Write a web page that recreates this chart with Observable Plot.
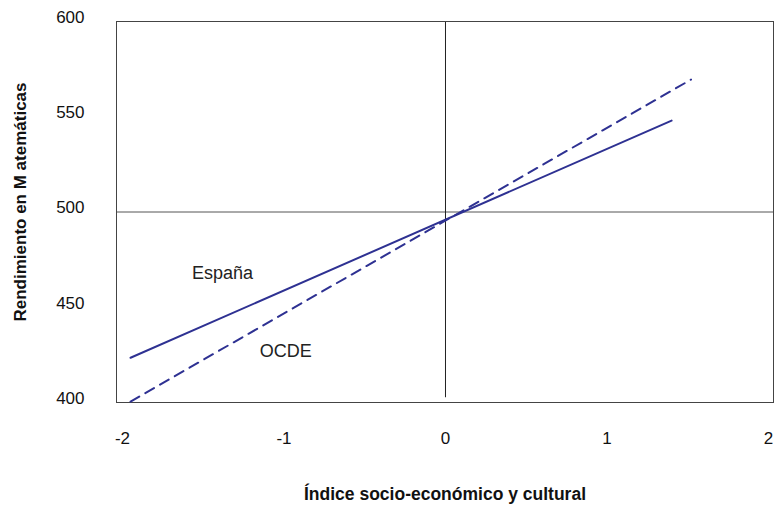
<!DOCTYPE html>
<html>
<head>
<meta charset="utf-8">
<script src="https://cdn.jsdelivr.net/npm/d3@7"></script>
<script src="https://cdn.jsdelivr.net/npm/@observablehq/plot@0.6"></script>
<style>
  html, body { margin: 0; padding: 0; background: #fff; }
  #chart svg { display: block; font-family: "Liberation Sans", Arial, sans-serif; }
</style>
</head>
<body>
<div id="chart"></div>
<script>
// Series (two endpoints of each regression line)
const espanaX = [-1.95, 1.40];
const espanaY = [423.5, 548];
const ocdeX = [-1.95, 1.52];
const ocdeY = [400.5, 569.5];

const xTicks = [-2, -1, 0, 1, 2];
const yTicks = [400, 450, 500, 550, 600];

const seriesLabels = ["España", "OCDE"];
const labelX = [-1.57, -1.15];
const labelY = [468, 427];

const xTitle = "Índice socio-económico y cultural";
const yTitle = "Rendimiento en M atemáticas";

const espana = espanaX.map((x, i) => ({x, y: espanaY[i]}));
const ocde = ocdeX.map((x, i) => ({x, y: ocdeY[i]}));
const labels = seriesLabels.map((t, i) => ({t, x: labelX[i], y: labelY[i]}));

const lineColor = "#2e3192";

const chart = Plot.plot({
  width: 777,
  height: 506,
  marginLeft: 116,
  marginRight: 4,
  marginTop: 21,
  marginBottom: 104,
  style: {fontFamily: "'Liberation Sans', Arial, sans-serif", background: "#fff"},
  x: {domain: [-2.037, 2.031], ticks: xTicks},
  y: {domain: [400, 600], ticks: yTicks},
  marks: [
    Plot.ruleY([500], {stroke: "#555", strokeWidth: 1}),
    Plot.ruleX([0], {y1: 402.5, y2: 600, stroke: "#222", strokeWidth: 1}),
    Plot.frame({stroke: "#444", strokeWidth: 1}),
    Plot.line(espana, {x: "x", y: "y", stroke: lineColor, strokeWidth: 2}),
    Plot.line(ocde, {x: "x", y: "y", stroke: lineColor, strokeWidth: 2, strokeDasharray: "10,7"}),
    Plot.text(labels, {x: "x", y: "y", text: "t", textAnchor: "start", fontSize: 18, fill: "#222"}),
    Plot.axisX({ticks: xTicks, tickSize: 0, tickPadding: 29, fontSize: 17, label: null, tickFormat: d => String(d).replace("\u2212", "-"), fill: "#111"}),
    Plot.axisY({ticks: yTicks, tickSize: 0, tickPadding: 32, fontSize: 17, label: null, dy: -4, fill: "#111"}),
    Plot.text([xTitle], {frameAnchor: "bottom", textAnchor: "middle", lineAnchor: "middle", dy: 92, fontSize: 17.5, fontWeight: "bold", fill: "#111"}),
    Plot.text([yTitle], {frameAnchor: "left", textAnchor: "middle", lineAnchor: "middle", dx: -96, dy: -10, rotate: -90, fontSize: 17, fontWeight: "bold", fill: "#111"})
  ]
});
document.getElementById("chart").appendChild(chart);
</script>
</body>
</html>
